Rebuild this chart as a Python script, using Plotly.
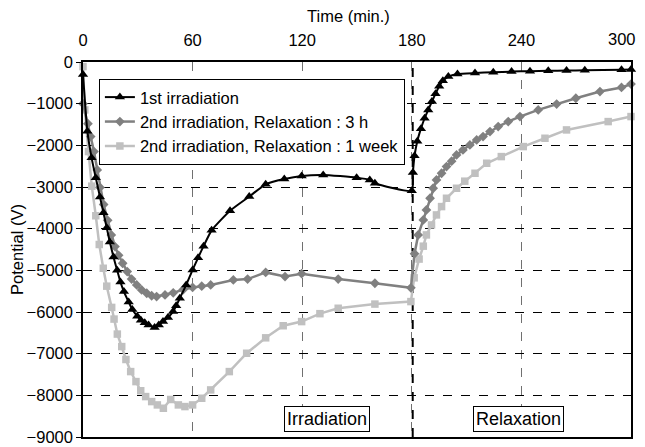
import plotly.graph_objects as go

# ---- data ----
t1 = [0, 2.4, 4.7, 7, 9.3, 11.2, 13, 14.7, 16.7, 18.7, 20.5, 22.4, 25, 27, 29.7, 31.7, 33.8, 35.9, 39.2,
      41.5, 43.8, 46.5, 49.3, 51, 53, 56.5, 60, 63, 66, 70.4, 80.5, 91, 100, 110.2, 119.7, 131.5, 149.8,
      157, 159.8, 180, 180.6, 181.5, 183, 185, 187, 189, 191, 193, 195, 197, 200, 205, 214.6, 224.6,
      234.6, 244.7, 254.7, 264.7, 274.7, 294.8, 300]
v1 = [-300, -1660, -2300, -2780, -3240, -3620, -3980, -4320, -4680, -5000, -5280, -5510, -5760, -5940, -6100,
      -6200, -6260, -6310, -6370, -6310, -6230, -6130, -5990, -5850, -5670, -5350, -4990, -4700, -4420, -4040,
      -3570, -3230, -2935, -2810, -2735, -2710, -2775, -2830, -2910, -3090, -2650, -2250, -1900, -1600,
      -1350, -1150, -950, -760, -580, -450, -350, -290, -265, -245, -230, -220, -210, -205, -200, -185, -180]

t2 = [0, 2.7, 4.2, 6, 7.8, 9.3, 11.3, 13.5, 15.5, 17.5, 19.5, 21.7, 24.2, 26.6, 29.4, 32.1, 34.9, 37.6,
      40.3, 44.9, 49.4, 54.9, 60, 65, 69.9, 82.3, 90.1, 100, 110.6, 119.7, 139.7, 159.8, 179.5, 181.5,
      183.5, 186.3, 188, 190, 191.7, 193.5, 196.3, 199, 201.8, 204.5, 208, 211.8, 215.5, 219, 222.8,
      227.3, 232.8, 239.2, 249.2, 259.3, 269.8, 283, 294.8, 300]
v2 = [-1000, -1480, -1790, -2150, -2590, -3010, -3420, -3800, -4150, -4430, -4640, -4830, -5030, -5210,
      -5350, -5470, -5550, -5610, -5630, -5590, -5540, -5460, -5410, -5380, -5350, -5230, -5210, -5050,
      -5150, -5080, -5210, -5310, -5420, -4600, -4150, -3790, -3550, -3270, -3030, -2830, -2670, -2510,
      -2380, -2230, -2110, -1990, -1870, -1790, -1670, -1550, -1430, -1310, -1150, -1010, -870, -710,
      -610, -530]

t3 = [0, 1, 3, 4.8, 7, 8.9, 11.1, 13, 15.7, 17, 18.8, 21.2, 23.5, 26.1, 29, 31.6, 34.3, 37.6, 40.7, 44,
      48, 52.2, 55.8, 60, 65, 69.9, 80.1, 89.6, 100, 109.6, 119.7, 129.7, 139.7, 159.8, 179.5, 181.3,
      184, 186.3, 188, 190.8, 193.5, 196.3, 199, 204.5, 209, 214.6, 221, 229, 241, 252.9, 264.7, 287.5, 300]
v3 = [-110, -1150, -2150, -2980, -3690, -4380, -4950, -5380, -5890, -6170, -6530, -6830, -7140, -7430,
      -7670, -7890, -8030, -8150, -8230, -8310, -8100, -8230, -8270, -8230, -8070, -7870, -7430, -6990,
      -6620, -6330, -6230, -6040, -5910, -5810, -5750, -5180, -4730, -4420, -4150, -3910, -3670, -3470,
      -3270, -3030, -2860, -2670, -2430, -2270, -2030, -1830, -1630, -1430, -1310]

names = ["1st irradiation", "2nd irradiation, Relaxation : 3 h", "2nd irradiation, Relaxation : 1 week"]
x_ticks = [0, 60, 120, 180, 240, 300]
x_ticktext = ["0", "60", "120", "180", "240", ""]
last_tick_label = "300"
x_title = "Time (min.)"
y_title = "Potential (V)"
y_ticks = list(range(-9000, 1, 1000))
labels = ["Irradiation", "Relaxation"]
label_x = [133.8, 238.6]
label_y = -8570
sep_x = 180.5

FONT = "Liberation Sans, Arial, sans-serif"
FS = 16.5

fig = go.Figure()
fig.add_trace(go.Scatter(x=t3, y=v3, name=names[2], mode="lines+markers",
                         line=dict(color="#c0c0c0", width=2.5),
                         marker=dict(symbol="square", size=7.5, color="#c0c0c0"), cliponaxis=False))
fig.add_trace(go.Scatter(x=t2, y=v2, name=names[1], mode="lines+markers",
                         line=dict(color="#808080", width=2.5),
                         marker=dict(symbol="diamond", size=7.5, color="#808080"), cliponaxis=False))
fig.add_trace(go.Scatter(x=t1, y=v1, name=names[0], mode="lines+markers",
                         line=dict(color="#000000", width=2, shape="spline", smoothing=0.5),
                         marker=dict(symbol="triangle-up", size=9, color="#000000"), cliponaxis=False))

fig.add_shape(type="line", x0=sep_x, x1=sep_x, y0=-9000, y1=0, xref="x", yref="y",
              line=dict(color="black", width=2, dash="dash"), layer="below")

for lab, lx in zip(labels, label_x):
    fig.add_annotation(x=lx, y=label_y, text=lab, showarrow=False, xref="x", yref="y",
                       font=dict(size=18, color="black", family=FONT),
                       bordercolor="black", borderwidth=1, bgcolor="white", borderpad=2)

# last top tick label is shifted left (as in the original)
fig.add_annotation(x=295, y=1, xref="x", yref="paper", text=last_tick_label, showarrow=False,
                   yanchor="middle", yshift=23, font=dict(size=FS, family=FONT, color="black"))
# x-axis title (slightly left of centre, as in the original)
fig.add_annotation(x=0.4836, y=1, xref="paper", yref="paper", text=x_title, showarrow=False,
                   xanchor="center", yanchor="middle", yshift=46,
                   font=dict(size=FS, family=FONT, color="black"))

# page body has an 8px margin: size/margins compensate so the plot area lands at 83..631 x 62..437
fig.update_layout(
    width=637, height=439,
    margin=dict(l=75, r=14, t=54, b=10),
    plot_bgcolor="white", paper_bgcolor="white",
    font=dict(family=FONT, size=FS, color="black"),
    showlegend=True,
    legend=dict(x=0.029, y=0.955, xanchor="left", yanchor="top",
                bgcolor="white", bordercolor="black", borderwidth=1,
                traceorder="reversed", font=dict(size=FS, family=FONT),
                tracegroupgap=0, itemwidth=30),
    xaxis=dict(range=[0, 300], side="top", tickvals=x_ticks, ticktext=x_ticktext, ticks="",
               automargin=False,
               ticklabelstandoff=8, tickfont=dict(size=FS, family=FONT),
               showline=True, linecolor="black", linewidth=1.5, mirror=True,
               showgrid=True, gridcolor="#707070", griddash="dash", gridwidth=1.2,
               zeroline=False),
    yaxis=dict(range=[-9000, 0], tickvals=y_ticks, ticks="outside", ticklen=5, tickcolor="black",
               automargin=False,
               tickfont=dict(size=FS, family=FONT),
               showline=True, linecolor="black", linewidth=1.5, mirror=True,
               showgrid=True, gridcolor="black", griddash="dash", gridwidth=1,
               zeroline=False, title=dict(text=y_title, standoff=0,
                                          font=dict(size=FS, family=FONT))),
)

fig.write_html("out.html")
